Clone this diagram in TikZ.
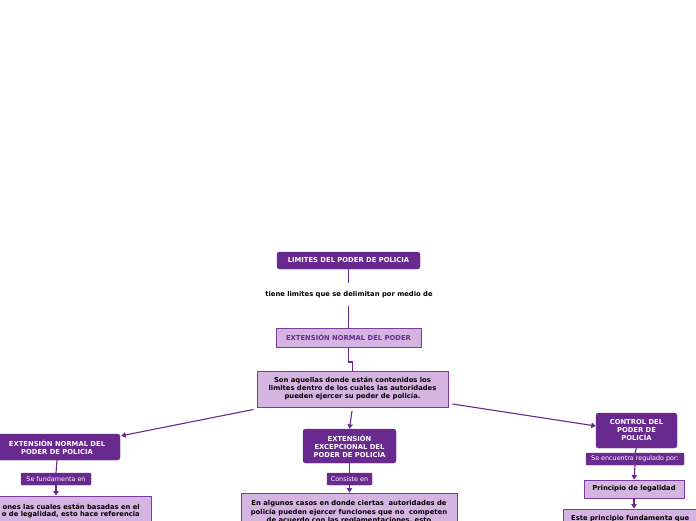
\documentclass[tikz,border=0pt]{standalone}
\usepackage{fontspec}
\setmainfont{DejaVu Sans}
\usetikzlibrary{arrows.meta,calc}
\definecolor{dkp}{HTML}{682A8F}
\definecolor{ltp}{HTML}{D6B4E1}
\definecolor{bdp}{HTML}{7A3C9C}
\tikzset{
  x=1pt,y=-1pt,
  bf/.style={font=\bfseries\fontsize{6.8}{8}\selectfont},
  dark/.style={bf,fill=dkp,draw=dkp,rounded corners=2.5pt,text=white,align=center,inner sep=0pt},
  light/.style={bf,fill=ltp,draw=bdp,line width=0.9pt,align=center,inner sep=0pt},
  tag/.style={fill=dkp,draw=dkp,rounded corners=1pt,text=white,font=\fontsize{6.4}{7}\selectfont,inner sep=0pt},
  conn/.style={draw=dkp,line width=1.1pt},
  arr/.style={conn,-{Triangle[length=4.5pt,width=5.5pt]}},
  txt/.style={bf,inner sep=0pt},
}
\begin{document}
\begin{tikzpicture}
\useasboundingbox (0,0) rectangle (696,520);
\clip (0,0) rectangle (696,520);
\fill[white] (0,0) rectangle (696,520);

\node[dark,minimum width=143pt,minimum height=17pt] (top) at (348.5,260.5) {LIMITES DEL PODER DE POLICIA};
\node[txt,minimum width=172pt,minimum height=22pt] (tl) at (349,294.5) {tiene limites que se delimitan por medio de};
\node[light,text=dkp,minimum width=145pt,minimum height=19pt] (enp) at (348.5,337.5) {EXTENSIÓN NORMAL DEL PODER};
\node[light,minimum width=191pt,minimum height=36pt] (son) at (352.5,389) {Son aquellas donde están contenidos los\\limites dentro de los cuales las autoridades\\pueden ejercer su poder de policía.};

\node[dark,minimum width=126pt,minimum height=26pt] (left) at (57,447) {EXTENSIÓN NORMAL DEL\\PODER DE POLICIA};
\node[dark,minimum width=93pt,minimum height=34pt] (exc) at (349.5,446) {EXTENSIÓN\\EXCEPCIONAL DEL\\PODER DE POLICÍA};
\node[dark,minimum width=81pt,minimum height=35pt] (ctl) at (636.5,430.5) {CONTROL DEL\\PODER DE\\POLICÍA};

\node[tag,minimum width=70pt,minimum height=12pt] (t1) at (56,479) {Se fundamenta en};
\node[tag,minimum width=45pt,minimum height=12pt] (t2) at (349.5,479) {Consiste en};
\node[tag,minimum width=98pt,minimum height=12pt] (t3) at (635,459) {Se encuentra regulado por:};

\node[light,minimum width=100pt,minimum height=18pt] (pdl) at (634,489) {Principio de legalidad};

\node[light,minimum width=211pt,minimum height=50pt] (lb) at (45.5,521) {};
\node[txt,anchor=east] (lb1) at (140,506.5) {ones las cuales están basadas en el};
\node[txt,anchor=east] (lb2) at (140,514.5) {o de legalidad, esto hace referencia};

\node[light,minimum width=216pt,minimum height=50pt] (cb) at (349,518) {};
\node[bf,font=\bfseries\fontsize{6.8}{8.6}\selectfont,inner sep=0pt,align=center,anchor=north] (cbt) at (349,500.3) {En algunos casos en donde ciertas\ \ autoridades de\\policía pueden ejercer funciones que no\ \ competen\\de acuerdo con las reglamentaciones, esto};

\node[light,minimum width=160pt,minimum height=40pt] (rb) at (643,529) {};
\node[txt,anchor=west] (rbt) at (571,518.5) {Este principio fundamenta que};

% connectors
\draw[conn] (top.south) -- (top.south |- 0,283);
\draw[conn] (enp.north |- 0,306) -- (enp.north);
\draw[conn] (enp.south) -- ++(0,14.5) -| (son.north);
\coordinate (sl) at ($(son.south west)+(-3,2)$);
\coordinate (sr) at ($(son.east)+(4,15)$);
\draw[arr] (sl) -- ($(left.north east)+(1,2)$);
\draw[arr] ($(son.south)+(-0.5,3.5)$) -- (exc.north);
\draw[arr] (sr) -- ($(ctl.west)+(0,-4.5)$);

\draw[conn] (left.south) -- (t1.north);
\draw[arr] (t1.south) -- (lb.north -| t1.south);
\draw[conn] (exc.south) -- (t2.north);
\draw[arr] (t2.south) -- (cb.north -| t2.south);
\draw[conn] (ctl.south) -- (t3.north);
\draw[arr] (t3.south) -- (pdl.north);
\draw[arr] (pdl.south) -- (rb.north -| pdl.south);
\end{tikzpicture}
\end{document}
